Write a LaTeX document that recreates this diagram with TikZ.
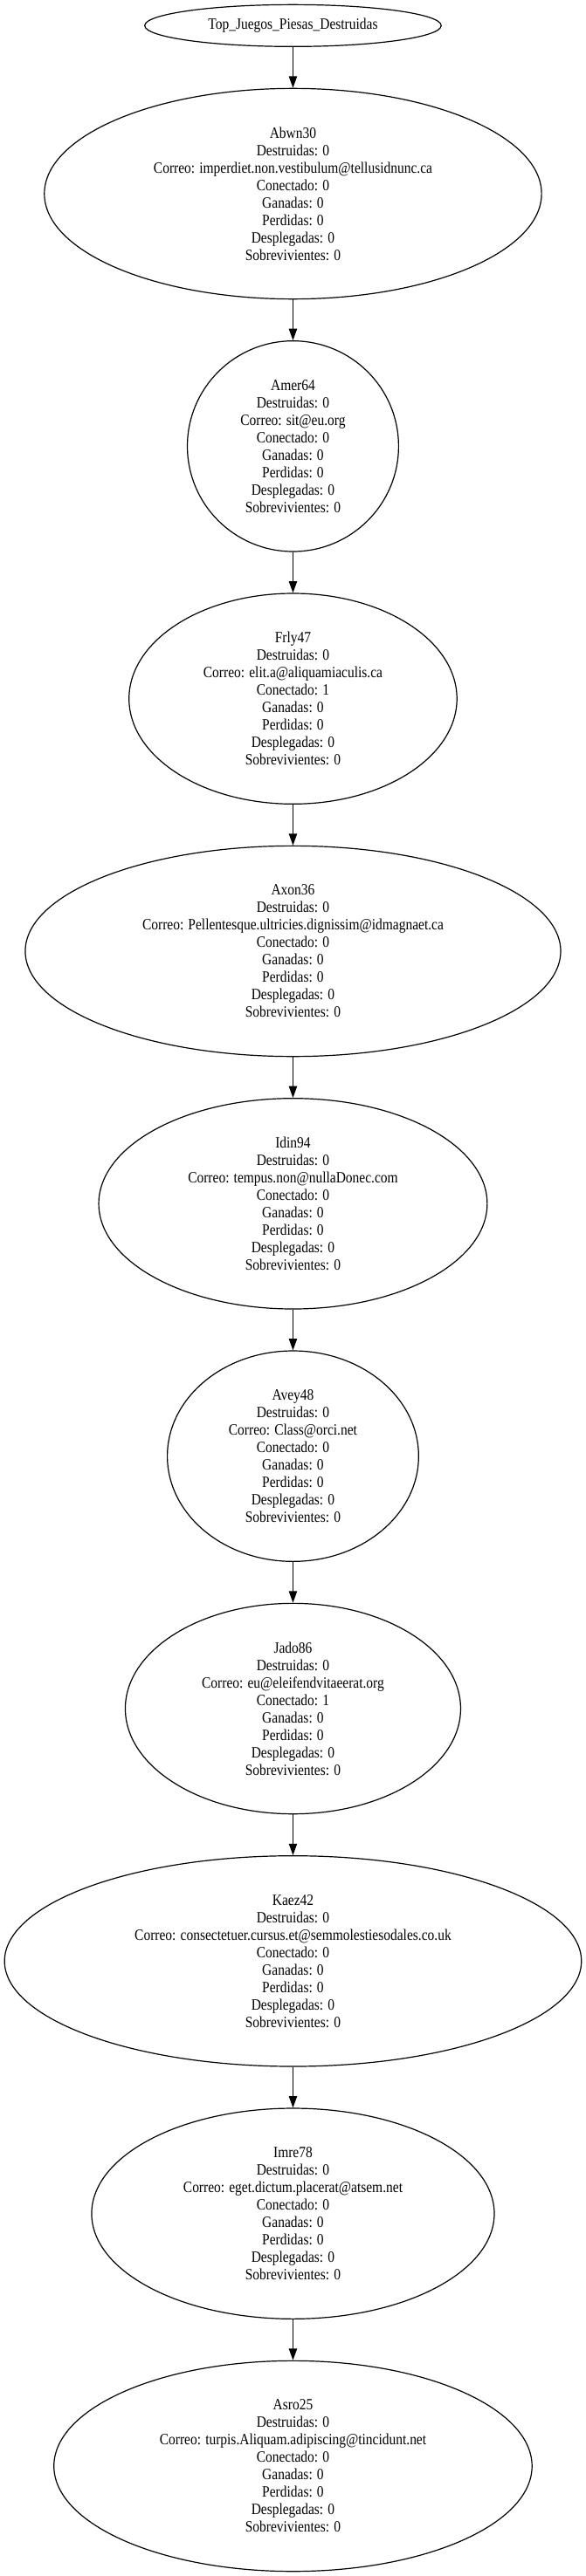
\documentclass[tikz,border=0pt]{standalone}
\usepackage{fontspec}
\setmainfont{Liberation Serif}[FakeStretch=0.86]
\usetikzlibrary{arrows.meta,shapes.geometric}
\begin{document}
\begin{tikzpicture}[x=1pt,y=1pt,
  gnode/.style={ellipse, draw, line width=0.9pt, inner sep=0pt, align=center,
    font=\fontsize{13.5pt}{15pt}\selectfont, minimum height=181pt},
  topnode/.style={ellipse, draw, line width=0.9pt, inner sep=0pt, align=center,
    font=\fontsize{13.5pt}{15pt}\selectfont, minimum height=36pt},
  arr/.style={line width=0.9pt, -{Triangle[length=10pt,width=7pt]}}]
\useasboundingbox (0,0) rectangle (503.25,-2214);
\def\cx{251.6}
\node[topnode, minimum width=254.6pt] (top) at (\cx,-22) {Top\_Juegos\_Piesas\_Destruidas};
\node[gnode, minimum width=427pt] (n1) at (\cx,-166.5) {Abwn30\\Destruidas: 0\\Correo: imperdiet.non.vestibulum@tellusidnunc.ca\\Conectado: 0\\Ganadas: 0\\Perdidas: 0\\Desplegadas: 0\\Sobrevivientes: 0};
\node[gnode, minimum width=181.4pt] (n2) at (\cx,-383.5) {Amer64\\Destruidas: 0\\Correo: sit@eu.org\\Conectado: 0\\Ganadas: 0\\Perdidas: 0\\Desplegadas: 0\\Sobrevivientes: 0};
\node[gnode, minimum width=281.6pt] (n3) at (\cx,-600.5) {Frly47\\Destruidas: 0\\Correo: elit.a@aliquamiaculis.ca\\Conectado: 1\\Ganadas: 0\\Perdidas: 0\\Desplegadas: 0\\Sobrevivientes: 0};
\node[gnode, minimum width=459.8pt] (n4) at (\cx,-817.5) {Axon36\\Destruidas: 0\\Correo: Pellentesque.ultricies.dignissim@idmagnaet.ca\\Conectado: 0\\Ganadas: 0\\Perdidas: 0\\Desplegadas: 0\\Sobrevivientes: 0};
\node[gnode, minimum width=333.6pt] (n5) at (\cx,-1034.5) {Idin94\\Destruidas: 0\\Correo: tempus.non@nullaDonec.com\\Conectado: 0\\Ganadas: 0\\Perdidas: 0\\Desplegadas: 0\\Sobrevivientes: 0};
\node[gnode, minimum width=215.8pt] (n6) at (\cx,-1251.5) {Avey48\\Destruidas: 0\\Correo: Class@orci.net\\Conectado: 0\\Ganadas: 0\\Perdidas: 0\\Desplegadas: 0\\Sobrevivientes: 0};
\node[gnode, minimum width=288pt] (n7) at (\cx,-1468.5) {Jado86\\Destruidas: 0\\Correo: eu@eleifendvitaeerat.org\\Conectado: 1\\Ganadas: 0\\Perdidas: 0\\Desplegadas: 0\\Sobrevivientes: 0};
\node[gnode, minimum width=495.4pt] (n8) at (\cx,-1685.5) {Kaez42\\Destruidas: 0\\Correo: consectetuer.cursus.et@semmolestiesodales.co.uk\\Conectado: 0\\Ganadas: 0\\Perdidas: 0\\Desplegadas: 0\\Sobrevivientes: 0};
\node[gnode, minimum width=345.8pt] (n9) at (\cx,-1902.5) {Imre78\\Destruidas: 0\\Correo: eget.dictum.placerat@atsem.net\\Conectado: 0\\Ganadas: 0\\Perdidas: 0\\Desplegadas: 0\\Sobrevivientes: 0};
\node[gnode, minimum width=410.6pt] (n10) at (\cx,-2119.5) {Asro25\\Destruidas: 0\\Correo: turpis.Aliquam.adipiscing@tincidunt.net\\Conectado: 0\\Ganadas: 0\\Perdidas: 0\\Desplegadas: 0\\Sobrevivientes: 0};
\draw[arr] (top.south) -- (n1.north);
\draw[arr] (n1.south) -- (n2.north);
\draw[arr] (n2.south) -- (n3.north);
\draw[arr] (n3.south) -- (n4.north);
\draw[arr] (n4.south) -- (n5.north);
\draw[arr] (n5.south) -- (n6.north);
\draw[arr] (n6.south) -- (n7.north);
\draw[arr] (n7.south) -- (n8.north);
\draw[arr] (n8.south) -- (n9.north);
\draw[arr] (n9.south) -- (n10.north);
\end{tikzpicture}
\end{document}
